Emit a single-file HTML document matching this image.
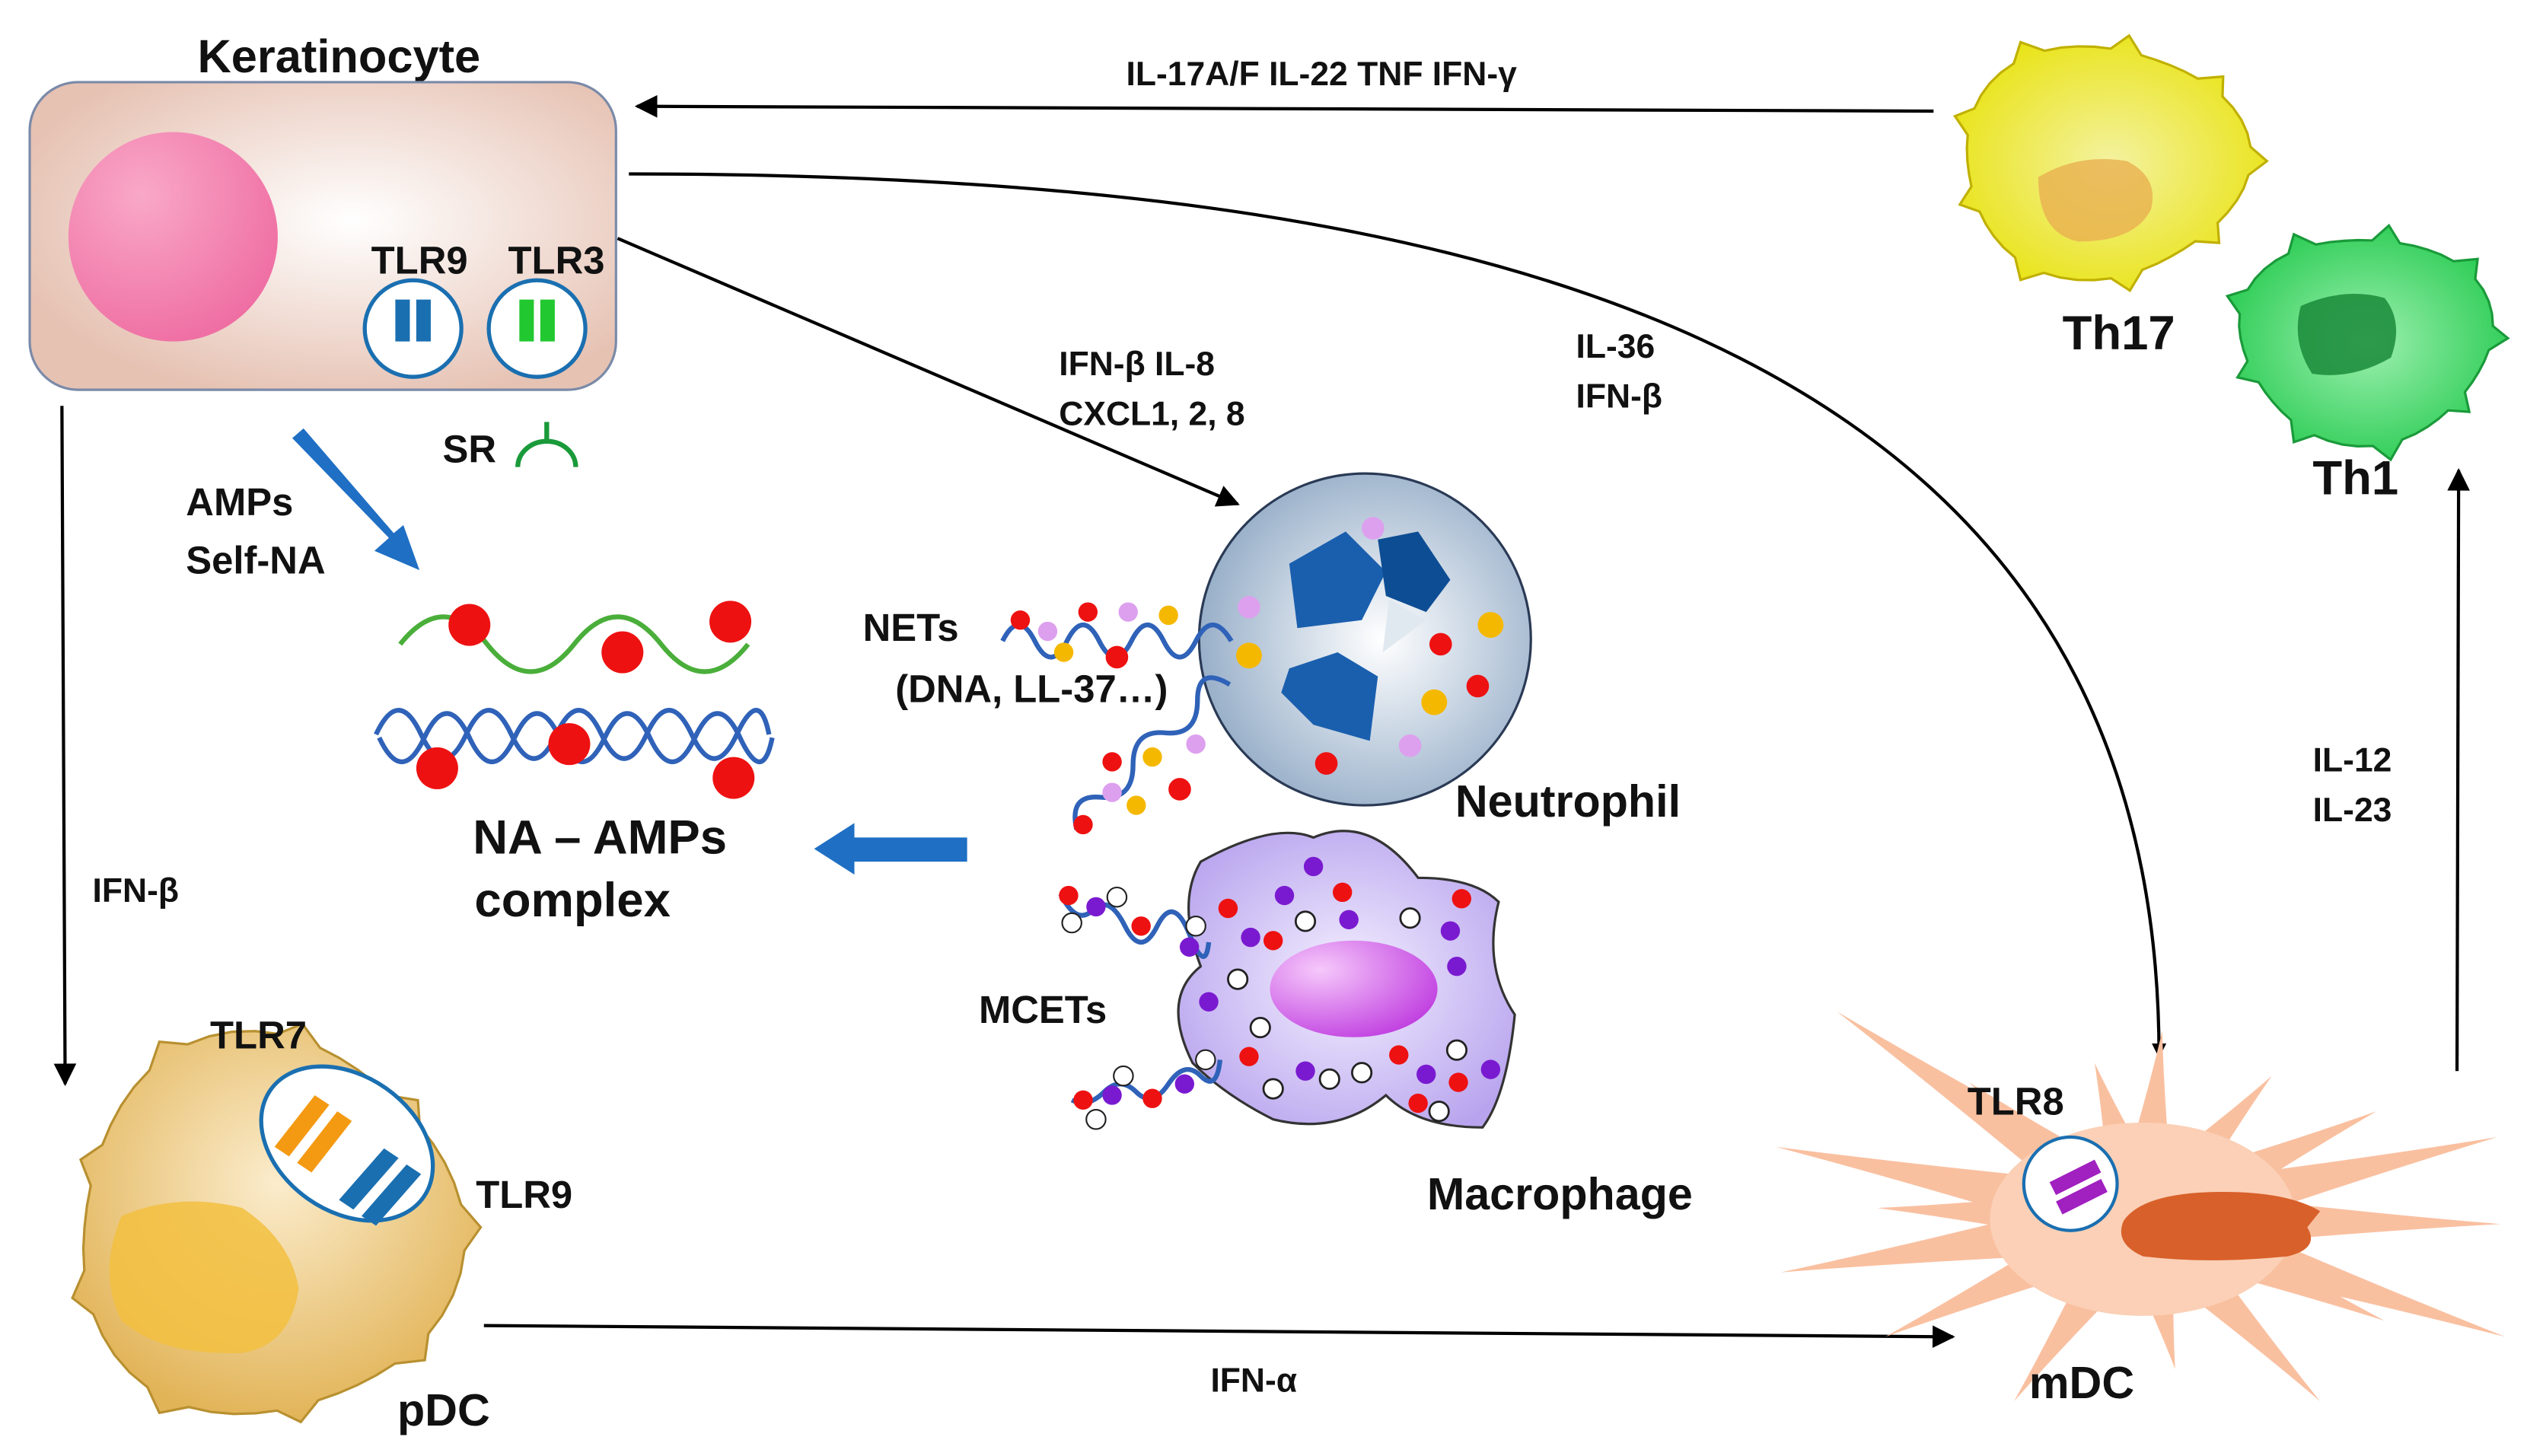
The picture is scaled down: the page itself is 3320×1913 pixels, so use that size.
<!DOCTYPE html>
<html><head><meta charset="utf-8">
<style>
html,body{margin:0;padding:0;background:#fff;}
svg{display:block;}
text{font-family:"Liberation Sans",Arial,sans-serif;font-weight:bold;fill:#111;}
</style></head>
<body>
<svg id="s" width="3320" height="1913" viewBox="0 0 1568 904" xmlns="http://www.w3.org/2000/svg">
<defs>
<radialGradient id="kg" cx="0.55" cy="0.45" r="0.6"><stop offset="0" stop-color="#fff"/><stop offset="1" stop-color="#e6c2b3"/></radialGradient>
<radialGradient id="pk" cx="0.35" cy="0.3" r="0.8"><stop offset="0" stop-color="#f9a8c8"/><stop offset="1" stop-color="#ee6aa0"/></radialGradient>
<radialGradient id="ng" cx="0.55" cy="0.5" r="0.6"><stop offset="0" stop-color="#ffffff"/><stop offset="0.5" stop-color="#c7d4e2"/><stop offset="1" stop-color="#8fa8c4"/></radialGradient>
<radialGradient id="mg" cx="0.5" cy="0.5" r="0.6"><stop offset="0" stop-color="#f4f0ff"/><stop offset="1" stop-color="#b8a4ee"/></radialGradient>
<radialGradient id="mn" cx="0.3" cy="0.3" r="0.8"><stop offset="0" stop-color="#f6c8fb"/><stop offset="1" stop-color="#c03ee0"/></radialGradient>
<radialGradient id="pg" cx="0.5" cy="0.4" r="0.6"><stop offset="0" stop-color="#fbeccc"/><stop offset="1" stop-color="#e2b458"/></radialGradient>
<radialGradient id="yg" cx="0.5" cy="0.5" r="0.6"><stop offset="0" stop-color="#f4f2a0"/><stop offset="1" stop-color="#e8e20a"/></radialGradient>
<radialGradient id="gg" cx="0.5" cy="0.5" r="0.6"><stop offset="0" stop-color="#9ef0b0"/><stop offset="1" stop-color="#1fc84a"/></radialGradient>
<radialGradient id="dg" cx="0.5" cy="0.5" r="0.6"><stop offset="0" stop-color="#fff1e8"/><stop offset="1" stop-color="#f9c4a6"/></radialGradient>
<marker id="ah" viewBox="0 0 10 10" refX="9" refY="5" markerWidth="9" markerHeight="9" orient="auto" markerUnits="userSpaceOnUse"><path d="M0,0L10,5L0,10z" fill="#000"/></marker>
<marker id="ah2" viewBox="0 0 10 10" refX="9" refY="5" markerWidth="16" markerHeight="14" orient="auto" markerUnits="userSpaceOnUse"><path d="M0,0L10,5L0,10z" fill="#000"/></marker>
</defs>

<g id="cells"></g>

<!-- Keratinocyte -->
<text x="210" y="45" font-size="29" text-anchor="middle">Keratinocyte</text>
<rect x="18" y="51" width="364" height="191" rx="30" fill="url(#kg)" stroke="#7a8aa8" stroke-width="1.5"/>
<circle cx="107" cy="147" r="65" fill="url(#pk)"/>
<text x="260" y="170" font-size="24" text-anchor="middle">TLR9</text>
<text x="345" y="170" font-size="24" text-anchor="middle">TLR3</text>
<circle cx="256" cy="204" r="30" fill="#fff" stroke="#1a6fb0" stroke-width="2.5"/>
<rect x="245" y="186" width="9" height="26" fill="#1a6fb0"/><rect x="258" y="186" width="9" height="26" fill="#1a6fb0"/>
<circle cx="333" cy="204" r="30" fill="#fff" stroke="#1a6fb0" stroke-width="2.5"/>
<rect x="322" y="186" width="9" height="26" fill="#22c830"/><rect x="335" y="186" width="9" height="26" fill="#22c830"/>
<text x="291" y="287" font-size="24" text-anchor="middle">SR</text>
<path d="M339,262 V274 M321,290 A18,16 0 0 1 357,290" fill="none" stroke="#1a9a3a" stroke-width="3"/>

<!-- Arrows -->
<line x1="1200" y1="69" x2="395" y2="66" stroke="#000" stroke-width="2" marker-end="url(#ah2)"/>
<text x="820" y="53" font-size="21" text-anchor="middle">IL-17A/F  IL-22  TNF  IFN-γ</text>
<path d="M390,108 C900,108 1340,200 1340,656" fill="none" stroke="#000" stroke-width="2" marker-end="url(#ah)"/>
<line x1="383" y1="148" x2="768" y2="313" stroke="#000" stroke-width="2" marker-end="url(#ah2)"/>
<text x="657" y="233" font-size="21">IFN-β  IL-8</text>
<text x="657" y="264" font-size="21">CXCL1, 2, 8</text>
<text x="978" y="222" font-size="21">IL-36</text>
<text x="978" y="253" font-size="21">IFN-β</text>
<line x1="38" y1="252" x2="40" y2="673" stroke="#000" stroke-width="2" marker-end="url(#ah2)"/>
<text x="57" y="560" font-size="21">IFN-β</text>
<line x1="300" y1="823" x2="1212" y2="830" stroke="#000" stroke-width="2" marker-end="url(#ah2)"/>
<text x="778" y="864" font-size="21" text-anchor="middle">IFN-α</text>
<line x1="1525" y1="665" x2="1526" y2="292" stroke="#000" stroke-width="2" marker-end="url(#ah2)"/>
<text x="1460" y="479" font-size="21" text-anchor="middle">IL-12</text>
<text x="1460" y="510" font-size="21" text-anchor="middle">IL-23</text>

<!-- blue thick arrows -->
<path d="M181,272 L241,334 L232,342 L260,354 L250,326 L244,331 L188,266 z" fill="#1f6fc4"/>
<path d="M600,520 V535 H530 V543 L505,527 L530,511 V520 z" fill="#1f6fc4"/>
<text x="115" y="320" font-size="24">AMPs</text>
<text x="115" y="356" font-size="24">Self-NA</text>

<!-- NA-AMPs -->
<path d="M248,400 q27,-34 54,0 t54,0 t54,0 t54,0" fill="none" stroke="#4aae3a" stroke-width="3"/>
<path d="M233,456 q14,-30 28,0 t28,0 t28,0 t28,0 t28,0 t28,0 t28,0 t28,0 t20,0" fill="none" stroke="#2f62b8" stroke-width="3"/>
<path d="M235,468 q14,30 28,0 t28,0 t28,0 t28,0 t28,0 t28,0 t28,0 t28,0 t20,0" fill="none" stroke="#2f62b8" stroke-width="3" transform="translate(0,-10)"/>
<g fill="#ee1111"><circle cx="291" cy="388" r="13"/><circle cx="386" cy="405" r="13"/><circle cx="453" cy="386" r="13"/><circle cx="271" cy="477" r="13"/><circle cx="353" cy="462" r="13"/><circle cx="455" cy="483" r="13"/></g>
<text x="372" y="530" font-size="30" text-anchor="middle">NA – AMPs</text>
<text x="355" y="569" font-size="30" text-anchor="middle">complex</text>

<!-- Neutrophil -->
<circle cx="847" cy="397" r="103" fill="url(#ng)" stroke="#2a3a55" stroke-width="1.5"/>
<path d="M800,350 L835,330 L860,355 L845,385 L805,390 z" fill="#1a5fae"/>
<path d="M855,335 L880,330 L900,360 L885,380 L860,370 z" fill="#0d4d94"/>
<path d="M800,415 L830,405 L855,420 L850,460 L815,450 L795,430 z" fill="#1a5fae"/>
<path d="M862,372 L885,385 L858,405 z" fill="#e0e8f0"/>
<g><circle cx="852" cy="328" r="7" fill="#dda0ee"/><circle cx="775" cy="377" r="7" fill="#dda0ee"/><circle cx="775" cy="407" r="8" fill="#f5b800"/><circle cx="925" cy="388" r="8" fill="#f5b800"/><circle cx="894" cy="400" r="7" fill="#ee1111"/><circle cx="917" cy="426" r="7" fill="#ee1111"/><circle cx="890" cy="436" r="8" fill="#f5b800"/><circle cx="875" cy="463" r="7" fill="#dda0ee"/><circle cx="823" cy="474" r="7" fill="#ee1111"/></g>
<text x="973" y="507" font-size="28" text-anchor="middle">Neutrophil</text>
<text x="565" y="398" font-size="24" text-anchor="middle">NETs</text>
<text x="640" y="436" font-size="24" text-anchor="middle">(DNA, LL-37…)</text>
<path d="M622,398 q10,-20 20,0 t20,0 t20,0 t20,0 t20,0 t20,0 t22,0" fill="none" stroke="#2f62b8" stroke-width="3"/>
<path d="M668,515 q-5,-22 15,-20 t20,-20 t20,-20 t20,-20 t20,-10" fill="none" stroke="#2f62b8" stroke-width="3"/>
<g><circle cx="633" cy="385" r="6" fill="#ee1111"/><circle cx="650" cy="392" r="6" fill="#dda0ee"/><circle cx="675" cy="380" r="6" fill="#ee1111"/><circle cx="660" cy="405" r="6" fill="#f5b800"/><circle cx="700" cy="380" r="6" fill="#dda0ee"/><circle cx="693" cy="408" r="7" fill="#ee1111"/><circle cx="725" cy="382" r="6" fill="#f5b800"/><circle cx="705" cy="500" r="6" fill="#f5b800"/><circle cx="732" cy="490" r="7" fill="#ee1111"/><circle cx="690" cy="492" r="6" fill="#dda0ee"/><circle cx="672" cy="512" r="6" fill="#ee1111"/><circle cx="715" cy="470" r="6" fill="#f5b800"/><circle cx="742" cy="462" r="6" fill="#dda0ee"/><circle cx="690" cy="473" r="6" fill="#ee1111"/></g>

<!-- Macrophage -->
<path d="M745,535 Q790,510 815,520 Q850,505 880,545 Q915,545 930,560 Q920,600 940,630 Q935,680 920,700 Q880,700 860,680 Q830,705 790,695 Q760,680 740,660 Q720,620 745,600 Q730,560 745,535 z" fill="url(#mg)" stroke="#333" stroke-width="1.5"/>
<ellipse cx="840" cy="614" rx="52" ry="30" fill="url(#mn)"/>
<g fill="#ee1111"><circle cx="762" cy="564" r="6"/><circle cx="833" cy="554" r="6"/><circle cx="907" cy="558" r="6"/><circle cx="790" cy="584" r="6"/><circle cx="775" cy="656" r="6"/><circle cx="868" cy="655" r="6"/><circle cx="905" cy="672" r="6"/><circle cx="880" cy="685" r="6"/></g>
<g fill="#7a1ad0"><circle cx="815" cy="538" r="6"/><circle cx="797" cy="556" r="6"/><circle cx="837" cy="571" r="6"/><circle cx="900" cy="578" r="6"/><circle cx="776" cy="582" r="6"/><circle cx="904" cy="600" r="6"/><circle cx="750" cy="622" r="6"/><circle cx="810" cy="665" r="6"/><circle cx="885" cy="667" r="6"/><circle cx="925" cy="664" r="6"/></g>
<g fill="#fff" stroke="#222" stroke-width="1.3"><circle cx="810" cy="572" r="6"/><circle cx="875" cy="570" r="6"/><circle cx="768" cy="608" r="6"/><circle cx="782" cy="638" r="6"/><circle cx="904" cy="652" r="6"/><circle cx="825" cy="670" r="6"/><circle cx="845" cy="666" r="6"/><circle cx="790" cy="676" r="6"/><circle cx="893" cy="690" r="6"/></g>
<text x="968" y="751" font-size="28" text-anchor="middle">Macrophage</text>
<text x="647" y="635" font-size="24" text-anchor="middle">MCETs</text>
<path d="M658,555 q10,20 20,10 t20,10 t20,0 t20,5 t12,5" fill="none" stroke="#2f62b8" stroke-width="3"/>
<path d="M665,683 q10,5 20,-5 t20,0 t20,-5 t20,-5 t12,-10" fill="none" stroke="#2f62b8" stroke-width="3"/>
<g><circle cx="663" cy="556" r="6" fill="#ee1111"/><circle cx="680" cy="563" r="6" fill="#7a1ad0"/><circle cx="693" cy="557" r="6" fill="#fff" stroke="#222"/><circle cx="665" cy="573" r="6" fill="#fff" stroke="#222"/><circle cx="708" cy="575" r="6" fill="#ee1111"/><circle cx="742" cy="575" r="6" fill="#fff" stroke="#222"/><circle cx="738" cy="588" r="6" fill="#7a1ad0"/><circle cx="672" cy="683" r="6" fill="#ee1111"/><circle cx="680" cy="695" r="6" fill="#fff" stroke="#222"/><circle cx="690" cy="680" r="6" fill="#7a1ad0"/><circle cx="697" cy="668" r="6" fill="#fff" stroke="#222"/><circle cx="715" cy="682" r="6" fill="#ee1111"/><circle cx="735" cy="673" r="6" fill="#7a1ad0"/><circle cx="748" cy="658" r="6" fill="#fff" stroke="#222"/></g>

<!-- pDC -->
<g id="pdc"></g>
<path d="M75,755 Q110,740 150,750 Q180,770 185,800 Q180,835 150,840 Q100,842 75,820 Q60,790 75,755 z" fill="#f2c040" opacity="0.85"/>
<ellipse cx="215" cy="710" rx="58" ry="42" transform="rotate(35 215 710)" fill="#fff" stroke="#1a6fb0" stroke-width="2.5"/>
<path d="M170,712 L195,680 L204,686 L179,718 z M184,722 L209,690 L218,696 L193,728 z" fill="#f49a12"/>
<path d="M210,745 L238,713 L247,719 L219,751 z M224,755 L252,723 L261,729 L233,761 z" fill="#1a6fb0"/>
<text x="160" y="651" font-size="24" text-anchor="middle">TLR7</text>
<text x="325" y="750" font-size="24" text-anchor="middle">TLR9</text>
<text x="275" y="885" font-size="28" text-anchor="middle">pDC</text>

<!-- mDC -->
<g id="mdc"></g>
<circle cx="1285" cy="735" r="29" fill="#fff" stroke="#1a6fb0" stroke-width="2"/>
<path d="M1272,734 L1300,720 L1304,728 L1276,742 z M1276,746 L1304,732 L1308,740 L1280,754 z" fill="#a020c0"/>
<path d="M1318,758 Q1330,740 1380,740 Q1420,740 1440,752 L1432,762 Q1440,775 1420,780 Q1370,785 1330,780 Q1312,772 1318,758 z" fill="#d8602a"/>
<text x="1251" y="692" font-size="24" text-anchor="middle">TLR8</text>
<text x="1292" y="868" font-size="28" text-anchor="middle">mDC</text>

<!-- Th17 / Th1 -->
<g id="th"></g>
<path d="M1265,110 Q1290,95 1320,100 Q1340,110 1335,130 Q1325,150 1290,150 Q1265,145 1265,110 z" fill="#e8b050" opacity="0.8"/>
<path d="M1428,190 Q1455,178 1480,185 Q1492,200 1484,222 Q1460,236 1435,232 Q1422,212 1428,190 z" fill="#1a8a3a" opacity="0.85"/>
<text x="1315" y="217" font-size="30" text-anchor="middle">Th17</text>
<text x="1462" y="307" font-size="30" text-anchor="middle">Th1</text>
</svg>
<script>
var NS="http://www.w3.org/2000/svg";
function spiky(g,cx,cy,rx,ry,n,amp,fill,stroke,seed){
  var d="",N=n*6;
  for(var i=0;i<=N;i++){var a=i/N*2*Math.PI;var k=(i%6==0)?amp:0;var w=Math.sin(a*3+seed)*0.05;
    var x=cx+(rx*(1+w)+k)*Math.cos(a),y=cy+(ry*(1+w)+k)*Math.sin(a);d+=(i?"L":"M")+x.toFixed(1)+","+y.toFixed(1);}
  var p=document.createElementNS(NS,"path");p.setAttribute("d",d+"Z");p.setAttribute("fill",fill);
  if(stroke){p.setAttribute("stroke",stroke);p.setAttribute("stroke-width","1.5");}
  g.parentNode.insertBefore(p,g);
}
spiky(document.getElementById("pdc"),165,762,118,118,9,10,"url(#pg)","#b89030",1);
spiky(document.getElementById("th"),1305,100,88,72,9,10,"url(#yg)","#c0b000",2);
spiky(document.getElementById("th"),1468,210,78,64,9,10,"url(#gg)","#1a9a3a",3);
var g=document.getElementById("mdc"),cx=1330,cy=757;
var tips=[[1102,712],[1140,628],[1222,672],[1300,660],[1342,640],[1410,668],[1475,690],[1550,706],[1552,760],[1555,830],[1480,820],[1440,870],[1350,850],[1250,870],[1170,830],[1105,790],[1165,750]];
var body=document.createElementNS(NS,"ellipse");body.setAttribute("cx",cx);body.setAttribute("cy",cy);body.setAttribute("rx",95);body.setAttribute("ry",60);body.setAttribute("fill","#fbd0b6");
g.parentNode.insertBefore(body,g);
tips.forEach(function(t){var dx=t[0]-cx,dy=t[1]-cy,L=Math.hypot(dx,dy),px=-dy/L*20,py=dx/L*20;
  var p=document.createElementNS(NS,"path");
  p.setAttribute("d","M"+(cx+px)+","+(cy+py)+" Q"+(cx+dx*0.6+px*0.3)+","+(cy+dy*0.6+py*0.3)+" "+t[0]+","+t[1]+" Q"+(cx+dx*0.6-px*0.3)+","+(cy+dy*0.6-py*0.3)+" "+(cx-px)+","+(cy-py)+"Z");
  p.setAttribute("fill","#f9c0a0");g.parentNode.insertBefore(p,body);});
</script>
</body></html>
